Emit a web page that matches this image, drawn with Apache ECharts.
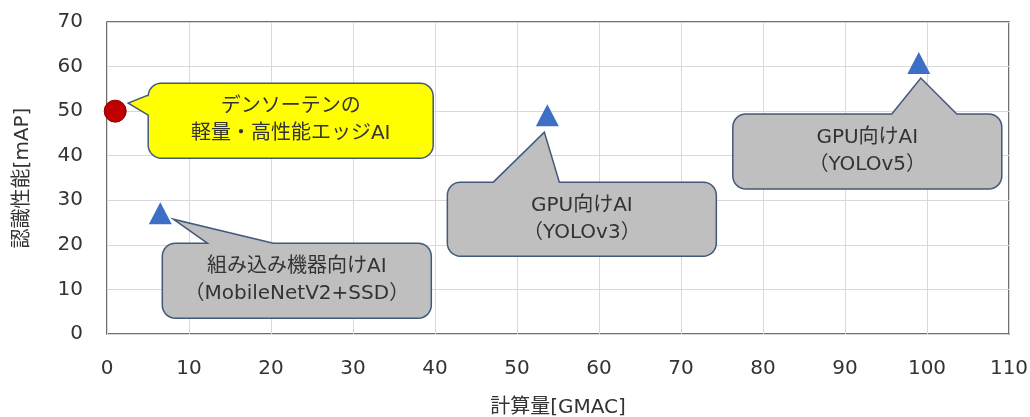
<!DOCTYPE html>
<html>
<head>
<meta charset="utf-8">
<script src="https://cdn.jsdelivr.net/npm/echarts@6/dist/echarts.min.js"></script>
<style>
html,body{margin:0;padding:0;background:#fff;}
#chart{width:1030px;height:417px;}
</style>
</head>
<body>
<div id="chart"></div>
<script>
// ---- data ----
const xTicks = [0, 10, 20, 30, 40, 50, 60, 70, 80, 90, 100, 110];
const yTicks = [0, 10, 20, 30, 40, 50, 60, 70];
const densoGMAC = [1];
const densoMAP = [50];
const otherGMAC = [6.5, 53.7, 99];
const otherMAP = [27.1, 49.1, 60.8];
const calloutTexts = [
  'デンソーテンの\n軽量・高性能エッジAI',
  '組み込み機器向けAI\n（MobileNetV2+SSD）',
  'GPU向けAI\n（YOLOv3）',
  'GPU向けAI\n（YOLOv5）'
];

// ---- callout layout (pixel offsets relative to the anchored point) ----
const calloutLayout = [
  { box: [33, 318, -28, 47], side: 'left', base: [-16, 4], tip: [13, -8], fill: '#ffff00' },
  { box: [2, 271, 30, 105], side: 'top', base: [47, 113], tip: [13, 6], fill: '#bfbfbf' },
  { box: [-100, 169, 67, 141], side: 'top', base: [-54, 12], tip: [-3, 17], fill: '#bfbfbf' },
  { box: [-186, 83, 51, 126], side: 'top', base: [-27, 38], tip: [2, 15], fill: '#bfbfbf' }
];

const FONT = '"DejaVu Sans", "Noto Sans CJK JP", sans-serif';
const TXT = '#333333';

const allGMAC = densoGMAC.concat(otherGMAC);
const allMAP = densoMAP.concat(otherMAP);
const calloutData = allGMAC.map((x, i) => [x, allMAP[i]]);

function arc(pts, cx, cy, r, a0, a1) {
  const n = 8;
  for (let i = 0; i <= n; i++) {
    const a = (a0 + (a1 - a0) * i / n) * Math.PI / 180;
    pts.push([cx + r * Math.cos(a), cy + r * Math.sin(a)]);
  }
}

function calloutPoints(px, py, L) {
  const left = px + L.box[0], right = px + L.box[1];
  const top = py + L.box[2], bottom = py + L.box[3];
  const r = 13;
  const tip = [px + L.tip[0], py + L.tip[1]];
  const pts = [];
  if (L.side === 'top') {
    pts.push([px + L.base[0], top], tip, [px + L.base[1], top]);
  }
  arc(pts, right - r, top + r, r, -90, 0);
  arc(pts, right - r, bottom - r, r, 0, 90);
  arc(pts, left + r, bottom - r, r, 90, 180);
  if (L.side === 'left') {
    pts.push([left, py + L.base[1]], tip, [left, py + L.base[0]]);
  }
  arc(pts, left + r, top + r, r, 180, 270);
  return { pts, cx: (left + right) / 2, cy: (top + bottom) / 2 };
}

const chart = echarts.init(document.getElementById('chart'), null, { renderer: 'canvas' });

chart.setOption({
  animation: false,
  backgroundColor: '#ffffff',
  grid: {
    left: 107, right: 21, top: 22, bottom: 83,
    show: true, borderColor: '#404040', borderWidth: 1.5,
    containLabel: false, outerBoundsMode: 'none'
  },
  xAxis: {
    type: 'value',
    min: xTicks[0], max: xTicks[xTicks.length - 1], interval: 10,
    name: '計算量[GMAC]', nameLocation: 'middle', nameGap: 64,
    nameTextStyle: { fontSize: 20, color: TXT, fontFamily: FONT },
    axisLine: { show: false }, axisTick: { show: false },
    axisLabel: { fontSize: 20, color: TXT, fontFamily: FONT, margin: 25 },
    splitLine: { show: true, lineStyle: { color: '#d9d9d9', width: 1 } }
  },
  yAxis: {
    type: 'value',
    min: yTicks[0], max: yTicks[yTicks.length - 1], interval: 10,
    name: '認識性能[mAP]', nameLocation: 'middle', nameGap: 74, nameRotate: 90,
    nameTextStyle: { fontSize: 20, color: TXT, fontFamily: FONT },
    axisLine: { show: false }, axisTick: { show: false },
    axisLabel: { fontSize: 20, color: TXT, fontFamily: FONT, margin: 24 },
    splitLine: { show: true, lineStyle: { color: '#d9d9d9', width: 1 } }
  },
  series: [
    {
      type: 'custom',
      clip: false,
      z: 3,
      data: calloutData,
      renderItem: function (params, api) {
        const p = api.coord([api.value(0), api.value(1)]);
        const L = calloutLayout[params.dataIndex];
        const c = calloutPoints(p[0], p[1], L);
        return {
          type: 'group',
          children: [
            {
              type: 'polygon',
              shape: { points: c.pts },
              style: { fill: L.fill, stroke: '#41597a', lineWidth: 1.5 }
            },
            {
              type: 'text',
              style: {
                text: calloutTexts[params.dataIndex],
                x: c.cx, y: c.cy,
                align: 'center', verticalAlign: 'middle',
                fontSize: 20, lineHeight: 27, fontFamily: FONT, fill: TXT
              }
            }
          ]
        };
      }
    },
    {
      type: 'scatter',
      z: 4,
      symbol: 'circle',
      symbolSize: 22,
      itemStyle: { color: '#c00000', borderColor: '#8b0000', borderWidth: 1, opacity: 1 },
      data: densoGMAC.map((x, i) => [x, densoMAP[i]])
    },
    {
      type: 'scatter',
      z: 4,
      symbol: 'triangle',
      symbolSize: [23, 22],
      itemStyle: { color: '#3d6fc6', opacity: 1 },
      data: otherGMAC.map((x, i) => [x, otherMAP[i]])
    }
  ]
});
</script>
</body>
</html>
